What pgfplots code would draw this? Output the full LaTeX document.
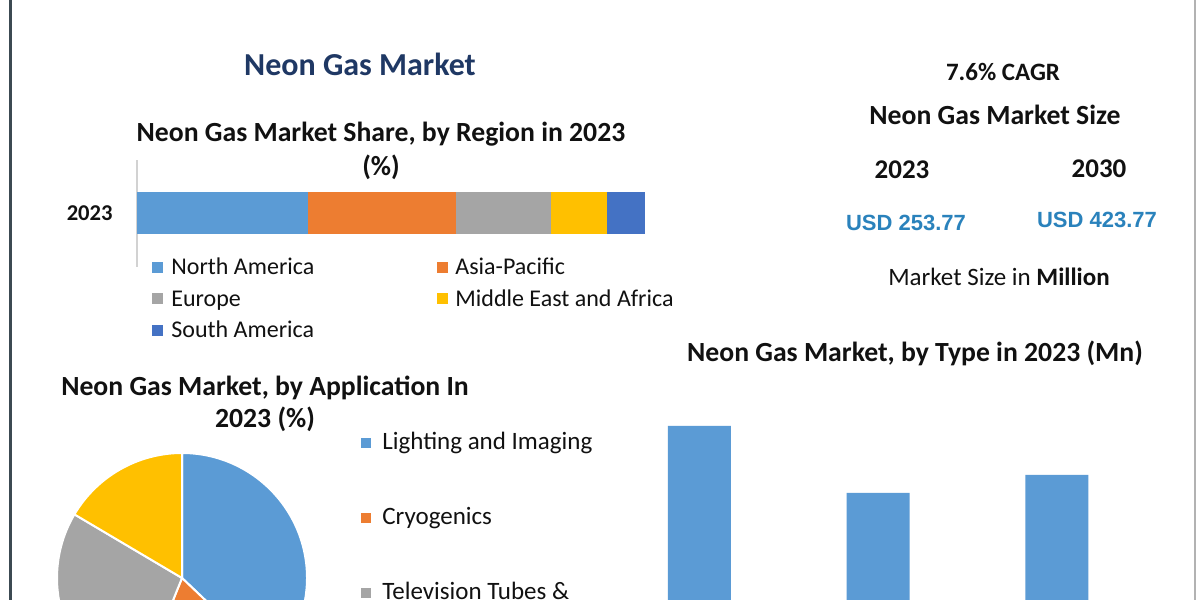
\documentclass[border=0pt]{standalone}
\usepackage{pgfplots}
\pgfplotsset{compat=1.18}
\usepackage{fontspec}
\setmainfont{Carlito}
\newfontfamily\arialf{Liberation Sans}
\definecolor{cBlue}{HTML}{5B9BD5}
\definecolor{cOrange}{HTML}{ED7D31}
\definecolor{cGray}{HTML}{A5A5A5}
\definecolor{cYellow}{HTML}{FFC000}
\definecolor{cDBlue}{HTML}{4472C4}
\definecolor{navy}{HTML}{1F3864}
\definecolor{usd}{HTML}{2A82BC}
\definecolor{txt}{HTML}{111111}
\definecolor{borderc}{HTML}{3C4A52}
\newcommand{\fs}[1]{\fontsize{#1bp}{#1bp}\selectfont}
\begin{document}
\begin{tikzpicture}[x=0.5bp,y=0.5bp]
\path[use as bounding box] (0,0) rectangle (1200,600);
\clip (0,0) rectangle (1200,600);
\fill[white] (0,0) rectangle (1200,600);
\fill[borderc] (9,0) rectangle (12,600);
\draw[gray!60,line width=0.6bp] (1195,0) -- (1195,600);

% titles
\node[anchor=base,inner sep=0,text=navy,font=\fs{16}\bfseries] at (360,600-76) {Neon Gas Market};
\node[anchor=base,inner sep=0,text=txt,font=\fs{13.85}\bfseries] at (381,600-142) {Neon Gas Market Share, by Region in 2023};
\node[anchor=base,inner sep=0,text=txt,font=\fs{13.85}\bfseries] at (381,600-176) {(\%)};

% stacked bar (region)
\begin{axis}[at={(68.5bp,193.25bp)}, anchor=west, scale only axis,
  width=254bp, height=53.5bp, xmin=0, xmax=100, ymin=-1, ymax=1,
  xbar stacked, bar width=21bp,
  axis x line=none, axis y line=left, axis line style={-,gray!35,line width=0.6bp},
  ytick={0}, yticklabels={2023}, major tick length=0pt,
  yticklabel style={font=\fs{11.3}\bfseries, text=txt, inner sep=0pt, xshift=-12bp},
  clip=false]
\addplot[fill=cBlue, draw=none] coordinates {(33.6,0)};
\addplot[fill=cOrange, draw=none] coordinates {(29.2,0)};
\addplot[fill=cGray, draw=none] coordinates {(18.6,0)};
\addplot[fill=cYellow, draw=none] coordinates {(11.2,0)};
\addplot[fill=cDBlue, draw=none] coordinates {(7.4,0)};
\end{axis}

% region legend
\fill[cBlue] (152,600-273) rectangle (163,600-262);
\node[anchor=base west,inner sep=0,text=txt,font=\fs{12}] at (171,600-275) {North America};
\fill[cOrange] (437,600-273) rectangle (448,600-262);
\node[anchor=base west,inner sep=0,text=txt,font=\fs{12}] at (455,600-275) {Asia-Pacific};
\fill[cGray] (152,600-304.5) rectangle (163,600-293.5);
\node[anchor=base west,inner sep=0,text=txt,font=\fs{12}] at (171,600-306.5) {Europe};
\fill[cYellow] (437,600-304.5) rectangle (448,600-293.5);
\node[anchor=base west,inner sep=0,text=txt,font=\fs{12}] at (455,600-306.5) {Middle East and Africa};
\fill[cDBlue] (152,600-336) rectangle (163,600-325);
\node[anchor=base west,inner sep=0,text=txt,font=\fs{12}] at (171,600-338) {South America};

% right panel
\node[anchor=base,inner sep=0,text=txt,font=\fs{12.5}\bfseries] at (1003,600-81) {7.6\% CAGR};
\node[anchor=base,inner sep=0,text=txt,font=\fs{13.85}\bfseries] at (995,600-125) {Neon Gas Market Size};
\node[anchor=base,inner sep=0,text=txt,font=\fs{13.5}\bfseries] at (902,600-179) {2023};
\node[anchor=base,inner sep=0,text=txt,font=\fs{13.5}\bfseries] at (1099,600-178) {2030};
\node[anchor=base,inner sep=0,text=usd,font=\arialf\fs{11}\bfseries] at (906,600-231) {USD 253.77};
\node[anchor=base,inner sep=0,text=usd,font=\arialf\fs{11}\bfseries] at (1097,600-228) {USD 423.77};
\node[anchor=base,inner sep=0,text=txt,font=\fs{12.5}] at (999,600-286) {Market Size in \textbf{Million}};

% type chart
\node[anchor=base,inner sep=0,text=txt,font=\fs{13.85}\bfseries] at (915,600-362) {Neon Gas Market, by Type in 2023 (Mn)};
\begin{axis}[at={(305bp,-30bp)}, anchor=south west, scale only axis,
  width=268.1bp, height=138.6bp, xmin=-0.5, xmax=2.5, ymin=0, ymax=120,
  hide axis, ybar, bar width=31.5bp, clip=false]
\addplot[fill=cBlue, draw=none] coordinates {(0,101.3) (1,72.3) (2,80.1)};
\end{axis}

% application pie
\node[anchor=base,inner sep=0,text=txt,font=\fs{13.85}\bfseries] at (265,600-396) {Neon Gas Market, by Application In};
\node[anchor=base,inner sep=0,text=txt,font=\fs{13.85}\bfseries] at (265,600-428) {2023 (\%)};
\def\pA{37.1}\def\pB{19.0}\def\pC{27.4}\def\pD{16.5}
\pgfmathsetmacro\eA{90-3.6*\pA}
\pgfmathsetmacro\eB{\eA-3.6*\pB}
\pgfmathsetmacro\eC{\eB-3.6*\pC}
\pgfmathsetmacro\eD{\eC-3.6*\pD}
\begin{axis}[at={(91bp,11bp)}, anchor=center, scale only axis,
  width=125bp, height=125bp, xmin=-1, xmax=1, ymin=-1, ymax=1,
  hide axis, clip=false]
\fill[cBlue, draw=white, line width=1bp] (axis cs:0,0) -- (axis cs:{cos(90)},{sin(90)}) arc[start angle=90, end angle=\eA, radius=62.5bp] -- cycle;
\fill[cOrange, draw=white, line width=1bp] (axis cs:0,0) -- (axis cs:{cos(\eA)},{sin(\eA)}) arc[start angle=\eA, end angle=\eB, radius=62.5bp] -- cycle;
\fill[cGray, draw=white, line width=1bp] (axis cs:0,0) -- (axis cs:{cos(\eB)},{sin(\eB)}) arc[start angle=\eB, end angle=\eC, radius=62.5bp] -- cycle;
\fill[cYellow, draw=white, line width=1bp] (axis cs:0,0) -- (axis cs:{cos(\eC)},{sin(\eC)}) arc[start angle=\eC, end angle=\eD, radius=62.5bp] -- cycle;
\end{axis}

% pie legend
\fill[cBlue] (361,600-448) rectangle (371,600-438);
\node[anchor=base west,inner sep=0,text=txt,font=\fs{12.5}] at (382,600-450) {Lighting and Imaging};
\fill[cOrange] (361,600-523) rectangle (371,600-513);
\node[anchor=base west,inner sep=0,text=txt,font=\fs{12.5}] at (382,600-525) {Cryogenics};
\fill[cGray] (361,600-598) rectangle (371,600-588);
\node[anchor=base west,inner sep=0,text=txt,font=\fs{12.5}] at (382,600-600) {Television Tubes \&};
\end{tikzpicture}
\end{document}
